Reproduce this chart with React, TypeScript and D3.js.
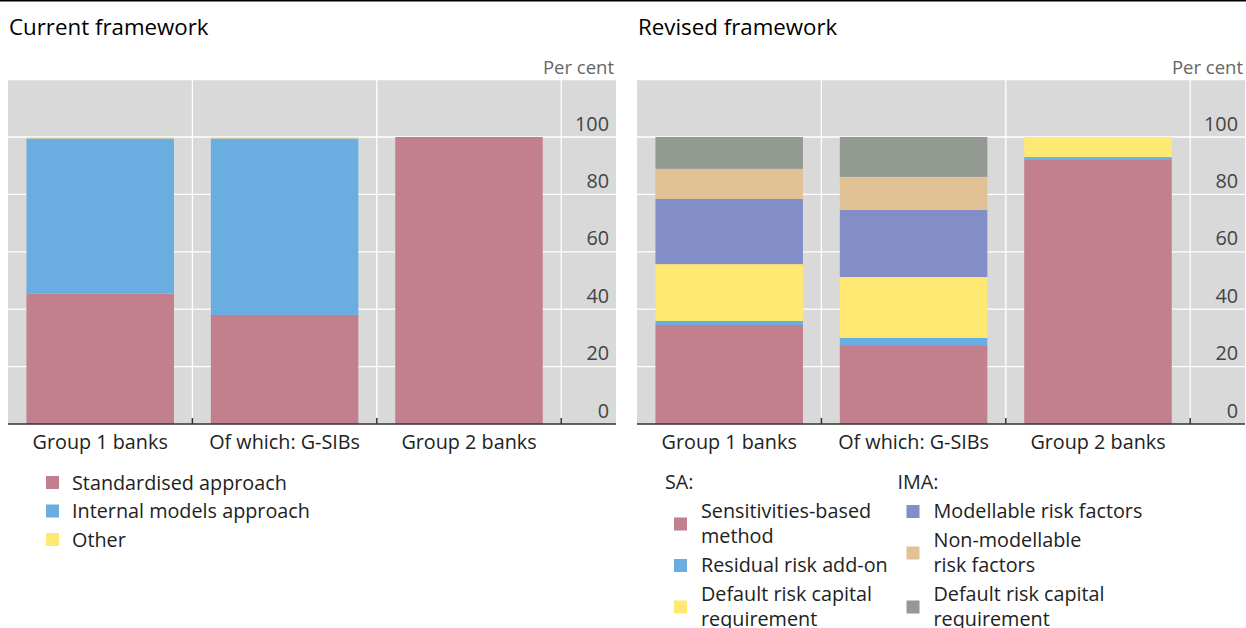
import React from "react";
import * as d3 from "d3";

const categories = ["Group 1 banks", "Of which: G-SIBs", "Group 2 banks"];
const yTicks = [0, 20, 40, 60, 80, 100];

// Current framework (per cent)
const currentStandardised = [45.4, 38.0, 100];
const currentInternal = [54.1, 61.5, 0];
const currentOther = [0.5, 0.5, 0];

// Revised framework (per cent)
const saSensitivities = [34.5, 27.5, 92.0];
const saResidual = [1.4, 2.5, 1.0];
const saDefault = [19.8, 21.2, 7.0];
const imaModellable = [22.7, 23.4, 0];
const imaNonModellable = [10.5, 11.5, 0];
const imaDefault = [11.1, 13.9, 0];

const currentSeries = [
  { key: "Standardised approach", values: currentStandardised, color: "#c27f8e" },
  { key: "Internal models approach", values: currentInternal, color: "#6aade0" },
  { key: "Other", values: currentOther, color: "#ffe972" },
];

const revisedSeries = [
  { key: "Sensitivities-based method", lines: ["Sensitivities-based", "method"], values: saSensitivities, color: "#c27f8e" },
  { key: "Residual risk add-on", lines: ["Residual risk add-on"], values: saResidual, color: "#6aade0" },
  { key: "Default risk capital requirement (SA)", lines: ["Default risk capital", "requirement"], values: saDefault, color: "#ffe972" },
  { key: "Modellable risk factors", lines: ["Modellable risk factors"], values: imaModellable, color: "#828ec5" },
  { key: "Non-modellable risk factors", lines: ["Non-modellable", "risk factors"], values: imaNonModellable, color: "#e1c294" },
  { key: "Default risk capital requirement (IMA)", lines: ["Default risk capital", "requirement"], values: imaDefault, color: "#939a92" },
];

const FONT = "'Open Sans', 'Noto Sans', sans-serif";
const FS = 19.8;
const TOP = 79.6;
const BOTTOM = 424;
const PANEL_W = 608;
const STEP = 184.4;

type Series = { key: string; values: number[]; color: string };

function Panel({ x0, title, series }: { x0: number; title: string; series: Series[] }) {
  const y = d3.scaleLinear().domain([0, 120]).range([BOTTOM, TOP]);
  const x = d3
    .scaleBand<string>()
    .domain(categories)
    .range([x0, x0 + STEP * 3])
    .paddingInner(0.2)
    .paddingOuter(0.1);
  const rows = categories.map((c, i) => {
    const r: any = { cat: c };
    series.forEach((s) => (r[s.key] = s.values[i]));
    return r;
  });
  const stacked = d3.stack<any>().keys(series.map((s) => s.key))(rows);
  const right = x0 + PANEL_W;
  const boundaries = [1, 2, 3].map((k) => x0 + k * x.step());
  return (
    <g>
      <text x={x0 + 1} y={35} fontSize={22.3} fill="#000" fontFamily={FONT}>
        {title}
      </text>
      <text x={right - 2} y={74} fontSize={18.5} fill="#666" textAnchor="end" fontFamily={FONT}>
        Per cent
      </text>
      <rect x={x0} y={TOP} width={PANEL_W} height={BOTTOM - TOP} fill="#d9d9d9" />
      {[20, 40, 60, 80, 100, 120].map((t) => (
        <line key={t} x1={x0} x2={right} y1={y(t)} y2={y(t)} stroke="#fff" strokeWidth={1.3} />
      ))}
      {boundaries.map((b, i) => (
        <line key={i} x1={b} x2={b} y1={TOP} y2={BOTTOM} stroke="#fff" strokeWidth={1.3} />
      ))}
      {stacked.map((layer, li) => (
        <g key={layer.key} fill={series[li].color}>
          {layer.map((d, i) =>
            d[1] - d[0] > 0 ? (
              <rect
                key={i}
                x={x(categories[i])}
                width={x.bandwidth()}
                y={y(d[1])}
                height={y(d[0]) - y(d[1])}
              />
            ) : null
          )}
        </g>
      ))}
      <line x1={x0} x2={right} y1={BOTTOM} y2={BOTTOM} stroke="#333" strokeWidth={1.5} />
      {boundaries.map((b, i) => (
        <line key={"t" + i} x1={b} x2={b} y1={BOTTOM - 6} y2={BOTTOM} stroke="#333" strokeWidth={1.5} />
      ))}
      {yTicks.map((t) => (
        <text key={t} x={right - 7} y={y(t) - 6.5} fontSize={FS} fill="#444" textAnchor="end" fontFamily={FONT}>
          {t}
        </text>
      ))}
      {categories.map((c) => (
        <text
          key={c}
          x={(x(c) as number) + x.bandwidth() / 2}
          y={448.5}
          fontSize={FS}
          fill="#222"
          textAnchor="middle"
          fontFamily={FONT}
        >
          {c}
        </text>
      ))}
    </g>
  );
}

function LegendColumn({ x, header, items }: { x: number; header: string; items: typeof revisedSeries }) {
  let baseline = 518;
  const out: React.ReactNode[] = [];
  items.forEach((it, i) => {
    const first = baseline;
    const last = baseline + (it.lines.length - 1) * 25;
    const cy = (first - 13 + last) / 2;
    out.push(
      <g key={i}>
        <rect x={x + 9} y={cy - 6.5} width={13} height={13} fill={it.color} />
        {it.lines.map((l, j) => (
          <text key={j} x={x + 36} y={first + j * 25} fontSize={FS} fill="#222" fontFamily={FONT}>
            {l}
          </text>
        ))}
      </g>
    );
    baseline = last + 29;
  });
  return (
    <g>
      <text x={x} y={489} fontSize={FS} fill="#222" fontFamily={FONT}>
        {header}
      </text>
      {out}
    </g>
  );
}

export default function App() {
  return (
    <svg
      width={1246}
      height={628}
      style={{ position: "absolute", left: 0, top: 0, background: "#fff" }}
      fontFamily={FONT}
    >
      <line x1={0} x2={1246} y1={0.75} y2={0.75} stroke="#000" strokeWidth={1.5} />
      <Panel x0={8} title="Current framework" series={currentSeries} />
      <Panel x0={637} title="Revised framework" series={revisedSeries} />
      {currentSeries.map((s, i) => (
        <g key={s.key}>
          <rect x={46} y={476 + i * 28.5} width={13} height={13} fill={s.color} />
          <text x={72} y={489.5 + i * 28.5} fontSize={FS} fill="#222" fontFamily={FONT}>
            {s.key}
          </text>
        </g>
      ))}
      <LegendColumn x={665} header="SA:" items={revisedSeries.slice(0, 3)} />
      <LegendColumn x={897.5} header="IMA:" items={revisedSeries.slice(3)} />
    </svg>
  );
}
